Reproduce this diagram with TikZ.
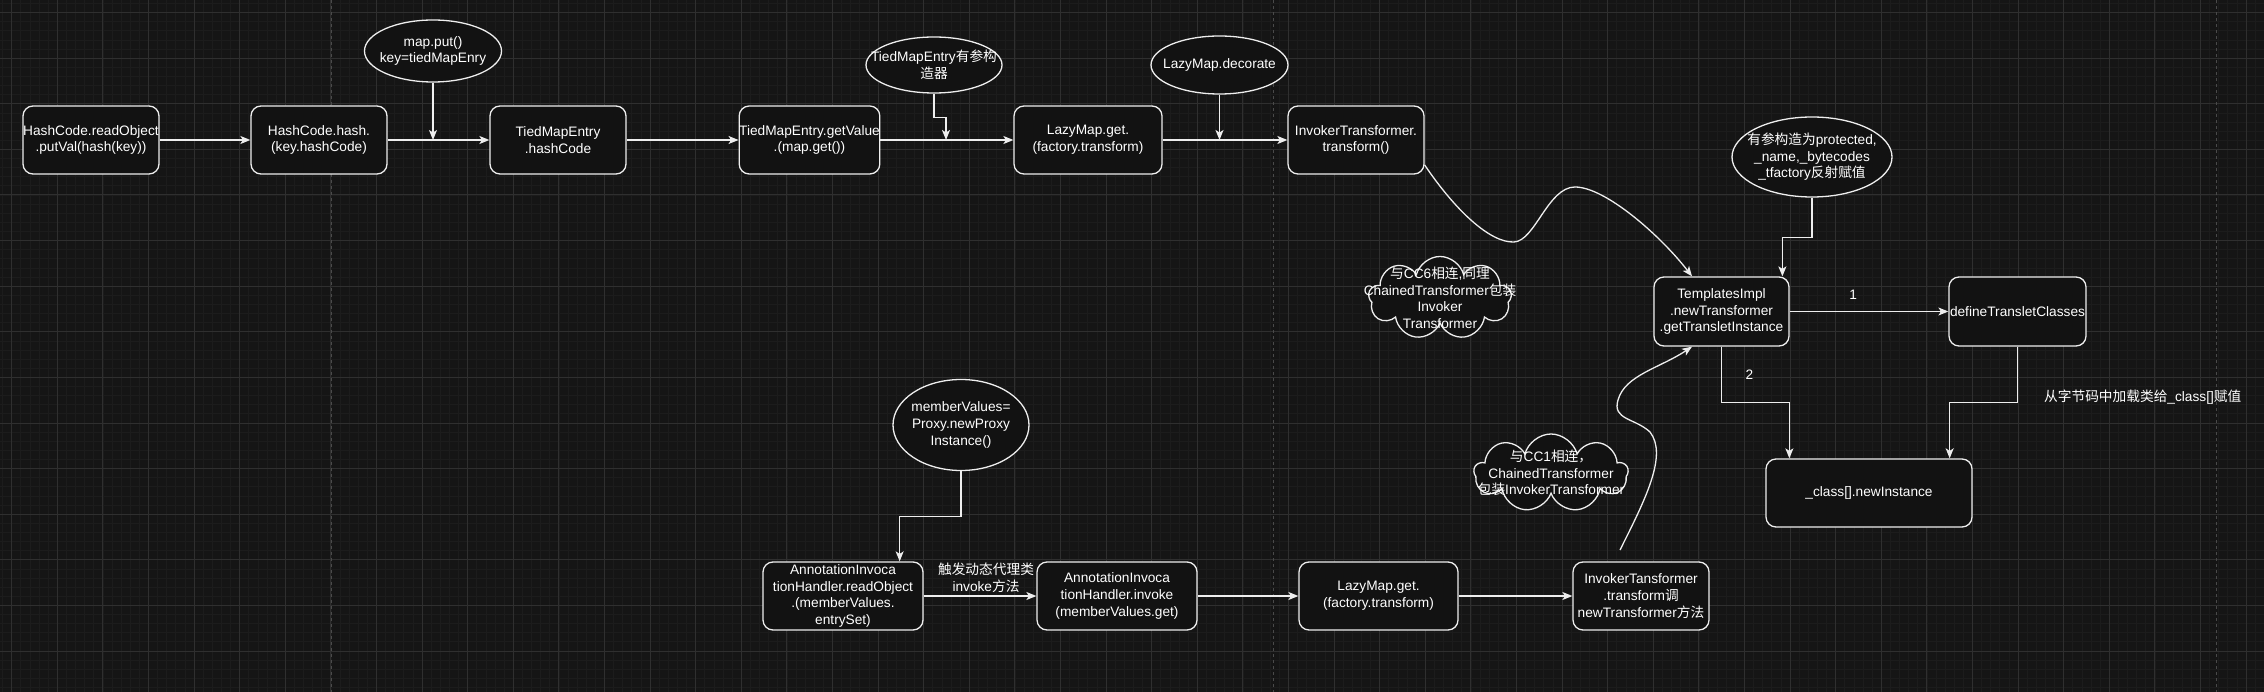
\documentclass[tikz,border=0pt]{standalone}
\usepackage{fontspec}
\setmainfont{Liberation Sans}
\newfontfamily\cjk{Noto Sans CJK SC}
\usepackage{xcolor}
\usepackage{tikz}
\usetikzlibrary{shapes.geometric,shapes.symbols,arrows.meta}

\definecolor{hinter}{HTML}{151515}
\definecolor{gitterfein}{HTML}{1C1C1C}
\definecolor{gittergrob}{HTML}{2F2F2F}
\definecolor{seite}{HTML}{4A4A4A}
\definecolor{fuellung}{HTML}{121212}
\definecolor{strich}{HTML}{EEEEEE}

\begin{document}
\begin{tikzpicture}[x=1pt,y=-1pt,
		font=\fontsize{13.7}{16.6}\selectfont, text=white,
		kasten/.style={draw=strich, fill=fuellung, line width=1.3pt, rounded corners=10pt, align=center, inner sep=0pt, minimum width=136pt, minimum height=68pt},
		blase/.style={ellipse, draw=strich, fill=fuellung, line width=1.3pt, align=center, inner sep=-16pt},
		wolke/.style={cloud, cloud puffs=9, cloud ignores aspect, draw=strich, fill=fuellung, line width=1.3pt, align=center, inner xsep=-40pt, inner ysep=-20pt},
		pfeil/.style={draw=strich, line width=1.3pt, -{Stealth[length=10pt,width=8pt,inset=2.5pt]}}]

		% Hintergrund
		\useasboundingbox (0,0) rectangle (2264,692);
		\fill[hinter] (0,0) rectangle (2264,692);
		\begin{scope}[shift={(11.7,12.6)}]
			\draw[gitterfein, line width=0.8pt, step=9.12pt] (-12,680) grid (2253,-13);
			\draw[gittergrob, line width=1pt, step=45.6pt] (-12,680) grid (2253,-13);
		\end{scope}
		\draw[seite, line width=1pt, dash pattern=on 3pt off 3pt] (331,0) -- (331,692);
		\draw[seite, line width=1pt, dash pattern=on 3pt off 3pt] (1273,0) -- (1273,692);
		\draw[seite, line width=1pt, dash pattern=on 3pt off 3pt] (2216,0) -- (2216,692);

		% Kette oben
		\node[kasten] (readobj) at (91,140) {HashCode.readObject\\.putVal(hash(key))};
		\node[kasten] (hash) at (319,140) {HashCode.hash.\\(key.hashCode)};
		\node[kasten] (tmehash) at (558,140) {TiedMapEntry\\.hashCode};
		\node[kasten, minimum width=135pt] (getvalue) at (809.5,140) {TiedMapEntry.getValue\\.(map.get())};
		\node[kasten, minimum width=148pt] (lazyget) at (1088,140) {LazyMap.get.\\(factory.transform)};
		\node[kasten] (invtrans) at (1356,140) {InvokerTransformer.\\transform()};

		% Blasen
		\node[blase, minimum width=137pt, minimum height=62pt] (mapput) at (433,51) {map.put()\\key=tiedMapEnry};
		\node[blase, minimum width=136pt, minimum height=56pt] (tmekonstr) at (934,65) {TiedMapEntry{\cjk 有参构}\\{\cjk 造器}};
		\node[blase, minimum width=137pt, minimum height=58pt] (decorate) at (1219.5,65) {LazyMap.decorate};
		\node[blase, minimum width=160pt, minimum height=80pt] (protected) at (1812,157) {{\cjk 有参构造为}protected,\\\_name,\_bytecodes\\\_tfactory{\cjk 反射赋值}};
		\node[blase, minimum width=136pt, minimum height=91pt] (proxy) at (961,425) {memberValues=\\Proxy.newProxy\\Instance()};

		% TemplatesImpl
		\node[kasten, minimum width=135pt, minimum height=69pt] (templates) at (1721.5,311.5) {TemplatesImpl\\.newTransformer\\.getTransletInstance};
		\node[kasten, minimum width=137pt, minimum height=69pt] (define) at (2017.5,311.5) {defineTransletClasses};
		\node[kasten, minimum width=206pt] (newinst) at (1869,493) {\_class[].newInstance};
		\node (hinweis) at (2142.7,397) {{\cjk 从字节码中加载类给}\_class[]{\cjk 赋值}};

		% Kette unten
		\node[kasten, minimum width=160pt] (aihread) at (843,596) {AnnotationInvoca\\tionHandler.readObject\\.(memberValues.\\entrySet)};
		\node[kasten, minimum width=160pt] (aihinvoke) at (1117,596) {AnnotationInvoca\\tionHandler.invoke\\(memberValues.get)};
		\node[kasten, minimum width=159pt] (lazyget2) at (1378.5,596) {LazyMap.get.\\(factory.transform)};
		\node[kasten] (invtrans2) at (1641,596) {InvokerTansformer\\.transform{\cjk 调}\\newTransformer{\cjk 方法}};

		% Wolken
		\node[wolke, minimum width=143pt, minimum height=83pt] (cc6) at (1440,298) {{\cjk 与}CC6{\cjk 相连},{\cjk 同理}\\ChainedTransformer{\cjk 包装}\\Invoker\\Transformer};
		\node[wolke, minimum width=154pt, minimum height=78pt] (cc1) at (1551,473) {{\cjk 与}CC1{\cjk 相连，}\\ChainedTransformer\\{\cjk 包装}InvokerTransformer};

		% Pfeile oben
		\coordinate (k1) at (433,140);
		\coordinate (k2) at (946,140);
		\coordinate (k3) at (1219.5,140);
		\draw[pfeil] (readobj) -- (hash);
		\draw[pfeil] (hash) -- (tmehash);
		\draw[pfeil] (tmehash) -- (getvalue);
		\draw[pfeil] (getvalue) -- (lazyget);
		\draw[pfeil] (lazyget) -- (invtrans);
		\draw[pfeil] (mapput) -- (k1);
		\draw[pfeil] (tmekonstr.south) -- ++(0,24) -| (k2);
		\draw[pfeil] (decorate) -- (k3);

		% Pfeile rechts
		\draw[pfeil] (protected.south) -- ++(0,40) -| (templates.30);
		\draw[pfeil] (invtrans.-20) .. controls (1455,210) and (1490,243) .. (1514,242) .. controls (1535,241) and (1548,187) .. (1575,187) .. controls (1605,187) and (1660,235) .. (templates.130);
		\draw[pfeil] (templates) -- node[pos=0.4, above=8pt] (l1) {1} (define);
		\draw[pfeil] (templates.south) -- ++(0,56) node[midway, right=20pt] (l2) {2} -| ([xshift=24pt]newinst.north west);
		\draw[pfeil] (define.south) -- ++(0,56) -| ([xshift=-23pt]newinst.north east);

		% Pfeile unten
		\coordinate (k4) at (1620,550);
		\draw[pfeil] (proxy.south) -- ++(0,45) -| ([xshift=-24pt]aihread.north east);
		\draw[pfeil] (aihread) -- node[above, xshift=6pt, inner sep=3pt, align=center] (l3) {{\cjk 触发动态代理类}\\invoke{\cjk 方法}} (aihinvoke);
		\draw[pfeil] (aihinvoke) -- (lazyget2);
		\draw[pfeil] (lazyget2) -- (invtrans2);
		\draw[pfeil] (k4) .. controls (1645,500) and (1668,455) .. (1650,432) .. controls (1635,418) and (1612,420) .. (1618,400) .. controls (1625,375) and (1660,368) .. (templates.-130);
	\end{tikzpicture}
\end{document}
